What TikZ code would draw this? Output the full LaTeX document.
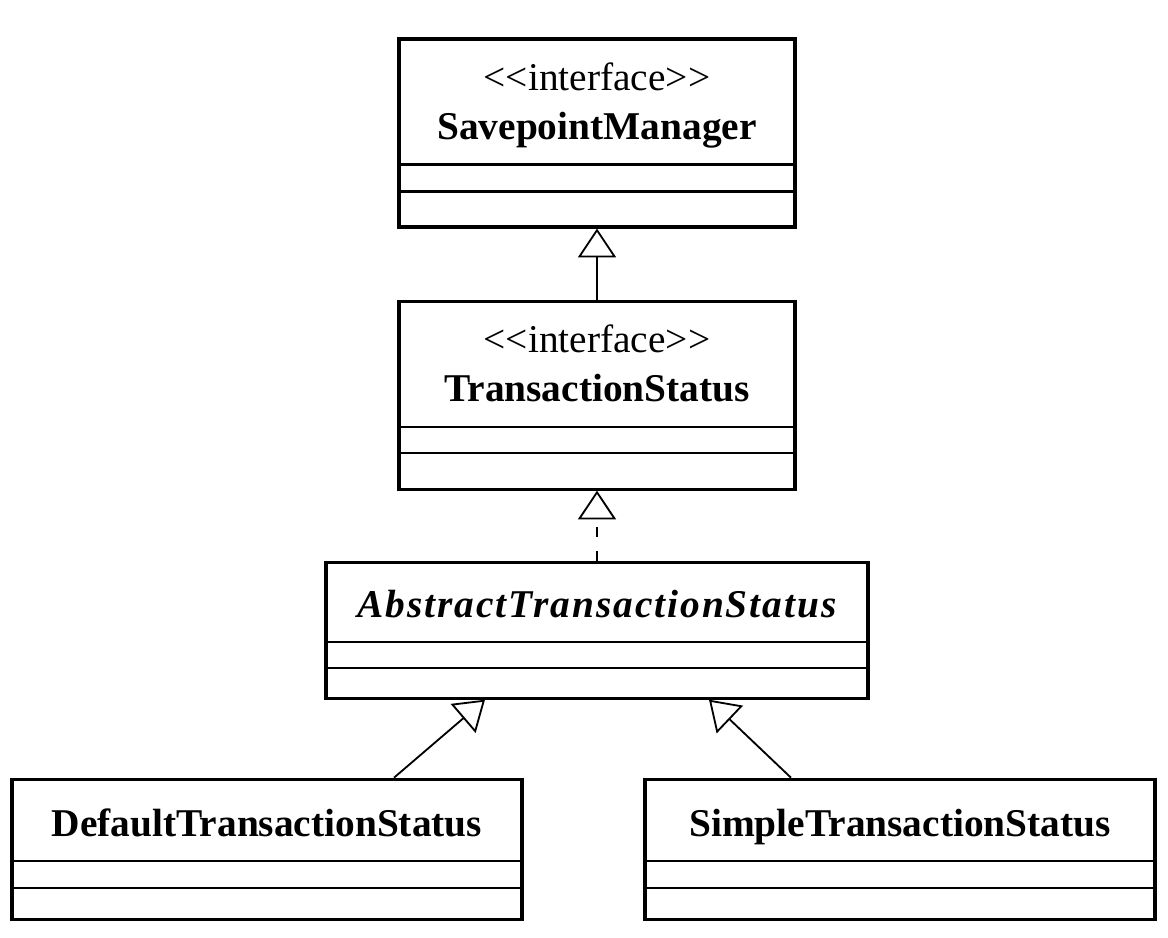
\documentclass[tikz,border=0pt]{standalone}
\usepackage{fontspec}
\setmainfont{Liberation Serif}
\usepackage{tikz}
\usetikzlibrary{arrows.meta, positioning, calc}

\begin{document}
\begin{tikzpicture}[
    classbox/.style={draw, rectangle, line width=2.2pt, inner sep=0pt},
    ifacebox/.style={classbox, minimum width=9.9cm, minimum height=4.7cm},
    stereo/.style={font=\fontsize{28}{34}\selectfont, inner sep=0pt, anchor=base},
    cname/.style={font=\fontsize{28}{34}\selectfont\bfseries, inner sep=0pt, anchor=base},
    sep/.style={line width=1.5pt},
    inherit/.style={line width=1.3pt, -{Triangle[open, length=0.72cm, width=0.95cm, line join=miter]}}
]
\useasboundingbox (0,0) rectangle (29.2,23.45);

% interfaces
\node[ifacebox] (savepoint) at (14.925,20.125) {};
\node[ifacebox, below=1.775cm of savepoint] (status) {};
\node[stereo] (savepoint-st) at ([yshift=-1.32cm]savepoint.north) {<\kern0pt<interface>\kern0pt>};
\node[cname] (savepoint-name) at ([yshift=-2.56cm]savepoint.north) {SavepointManager};
\node[stereo] (status-st) at ([yshift=-1.32cm]status.north) {<\kern0pt<interface>\kern0pt>};
\node[cname] (status-name) at ([yshift=-2.56cm]status.north) {TransactionStatus};

% classes
\node[classbox, minimum width=13.55cm, minimum height=3.4cm, below=1.75cm of status] (abstract) {};
\node[classbox, minimum width=12.75cm, minimum height=3.5cm, below=1.95cm of abstract, xshift=-8.25cm] (default) {};
\node[classbox, minimum width=12.75cm, minimum height=3.5cm, below=1.95cm of abstract, xshift=7.575cm] (simple) {};
\node[cname, font=\fontsize{28}{34}\selectfont\bfseries\itshape\addfontfeatures{LetterSpace=5}] (abstract-name) at ([yshift=-1.42cm]abstract.north) {AbstractTransactionStatus};
\node[cname] (default-name) at ([yshift=-1.48cm]default.north) {DefaultTransactionStatus};
\node[cname] (simple-name) at ([yshift=-1.48cm]simple.north) {SimpleTransactionStatus};

% compartments
\foreach \cls/\a/\b in {savepoint/1.6/0.925, status/1.6/0.95, abstract/1.45/0.8, default/1.5/0.825, simple/1.5/0.825} {
  \draw[sep] ([yshift=\a cm]\cls.south west) -- ([yshift=\a cm]\cls.south east);
  \draw[sep] ([yshift=\b cm]\cls.south west) -- ([yshift=\b cm]\cls.south east);
}

\draw[inherit] (status.north) -- (savepoint.south);
\draw[inherit, dash pattern=on 0.25cm off 0.35cm] (abstract.north) -- (status.south);
\draw[inherit] ([xshift=3.175cm]default.north) -- ([xshift=-2.8cm]abstract.south);
\draw[inherit] ([xshift=-2.725cm]simple.north) -- ([xshift=2.8cm]abstract.south);

\end{tikzpicture}
\end{document}
